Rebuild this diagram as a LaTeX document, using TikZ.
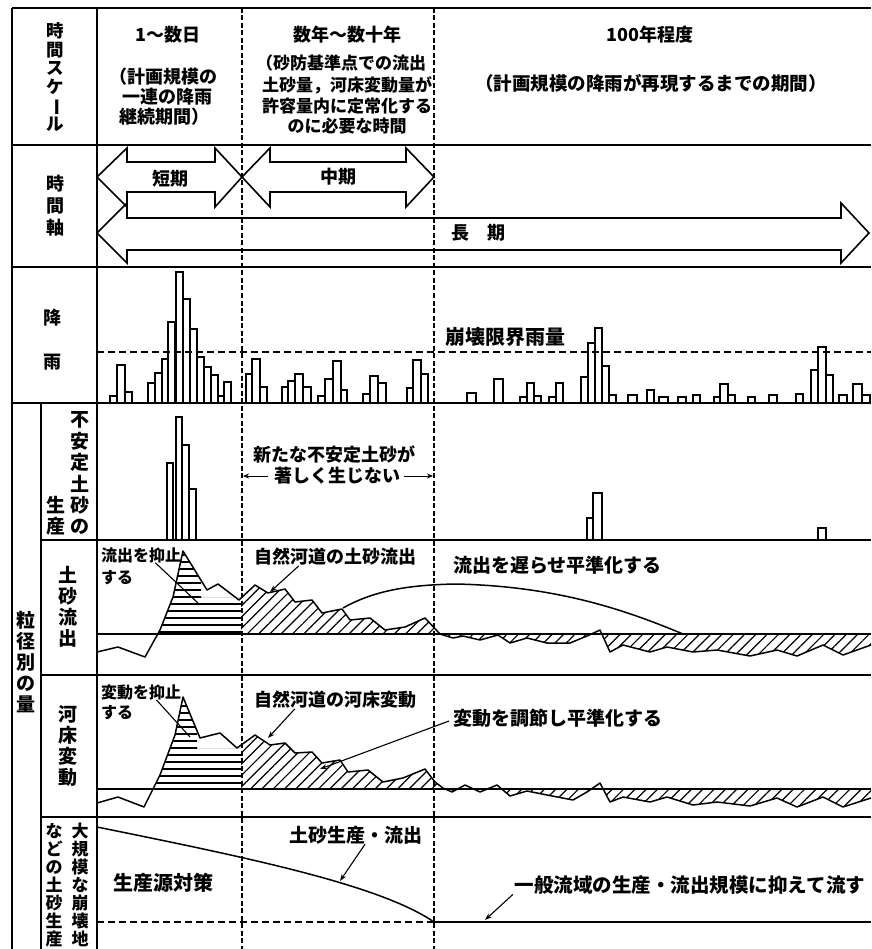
\documentclass[tikz,border=0pt]{standalone}
\usepackage{fontspec}
\setmainfont{Noto Sans CJK JP}
\usetikzlibrary{patterns.meta,arrows.meta}
\begin{document}
\begin{tikzpicture}[x=1pt,y=-1pt,
  frame/.style={line width=1.8pt},
  vdash/.style={line width=1.2pt, dash pattern=on 5pt off 2.5pt},
  hdash/.style={line width=1.3pt, dash pattern=on 7pt off 4pt},
  txt/.style={inner sep=0pt, font=\fontsize{18}{21}\selectfont\bfseries},
  txtb/.style={inner sep=0pt, font=\fontsize{17}{21}\selectfont\bfseries},
  txtc/.style={inner sep=0pt, font=\fontsize{19}{21}\selectfont\bfseries},
  txtd/.style={inner sep=0pt, font=\fontsize{20}{21}\selectfont\bfseries},
  stxt/.style={inner sep=0pt, font=\fontsize{16}{21}\selectfont\bfseries},
  vtxt/.style={inner sep=0pt, align=center},
  bar/.style={line width=1.3pt},
  curve/.style={line width=1.5pt, line join=round},
  hatch/.style={pattern={Lines[angle=45,distance=8pt,line width=1.2pt]}},
  hline/.style={line width=1.4pt},
  leader/.style={line width=1.1pt},
  arr/.style={line width=1.1pt, -{Stealth[length=7pt,width=5pt]}},
  bigarrow/.style={line width=1.6pt, line join=miter},
]
\useasboundingbox (0,0) rectangle (871,949);

% ---------- hatching: sediment outflow ----------
\begin{scope}
  \clip (158,634) -- (160,630) -- (173,597) -- (183,551) -- (201,581) -- (201,597.8) -- (241,597.8) -- (241,634) -- cycle;
  \foreach \yy in {555,562,...,632} \draw[hline] (150,\yy) -- (245,\yy);
\end{scope}
\fill[hatch] (241,634) -- (241,598) -- (255,585) -- (268,593) -- (285,589) -- (295,602) -- (312,600) -- (322,613) -- (342,609) -- (350,620) -- (370,618) -- (385,630) -- (405,627) -- (425,618) -- (440,634) -- cycle;
\begin{scope}
  \clip (436,634) rectangle (871,670);
  \fill[hatch] (440,634) -- (453,638) -- (463,636) -- (480,640) -- (498,635) -- (510,643) -- (527,638) -- (547,643) -- (570,643) -- (587,636) -- (600,630) -- (610,652) -- (623,645) -- (650,652) -- (667,647) -- (693,652) -- (717,650) -- (750,656) -- (777,650) -- (797,656) -- (823,645) -- (843,655) -- (871,645) -- (871,634) -- cycle;
\end{scope}

% ---------- hatching: riverbed ----------
\begin{scope}
  \clip (153,789) -- (160,775) -- (175,735) -- (183,697) -- (197,731) -- (197,748.8) -- (241,748.8) -- (241,789) -- cycle;
  \foreach \yy in {699,706,...,783} \draw[hline] (145,\yy) -- (245,\yy);
\end{scope}
\fill[hatch] (241,789) -- (241,745) -- (255,735) -- (270,745) -- (285,743) -- (295,753) -- (312,752) -- (322,763) -- (340,760) -- (348,772) -- (368,770) -- (383,782) -- (403,778) -- (425,769) -- (435,782) -- (443,789) -- cycle;
\begin{scope}
  \clip (436,789) rectangle (871,825);
  \fill[hatch] (443,788) -- (452,792) -- (465,785) -- (480,792) -- (497,785) -- (510,796) -- (527,791) -- (547,795) -- (573,800) -- (587,792) -- (600,783) -- (610,802) -- (623,797) -- (650,802) -- (667,797) -- (693,805) -- (717,802) -- (750,806) -- (777,798) -- (797,807) -- (823,797) -- (843,807) -- (871,798) -- (871,789) -- cycle;
\end{scope}

% ---------- frame ----------
\draw[frame] (12,8) -- (871,8);
\draw[frame] (12,8) -- (12,949);
\draw[frame] (97,8) -- (97,949);
\draw[frame] (12,145) -- (871,145);
\draw[frame] (12,267) -- (871,267);
\draw[frame] (12,403) -- (871,403);
\draw[frame] (41,403) -- (41,949);
\draw[frame] (41,540) -- (871,540);
\draw[frame] (41,675) -- (871,675);
\draw[frame] (41,817) -- (871,817);
\draw[vdash] (242,8) -- (242,949);
\draw[vdash] (434,8) -- (434,949);

% ---------- header texts ----------
\node[vtxt, font=\fontsize{17.5}{18.5}\selectfont\bfseries] (hs) at (55,77) {時\\間\\ス\\ケ\\\rotatebox[origin=c]{-90}{ー}\\ル};
\node[txt] (h1) at (168,35) {1～数日};
\node[txt] (h1a) at (163,77) {（計画規模の};
\node[txt] (h1b) at (167,97) {一連の降雨};
\node[txt] (h1c) at (164,117) {継続期間）};
\node[txt] (h2) at (347,35) {数年～数十年};
\node[txtb] (h2a) at (341,63) {（砂防基準点での流出};
\node[txtb] (h2b) at (347,85) {土砂量，河床変動量が};
\node[txtb] (h2c) at (347,106) {許容量内に定常化する};
\node[txtb] (h2d) at (347,126) {のに必要な時間};
\node[txt] (h3) at (650,35) {100年程度};
\node[inner sep=0pt, font=\fontsize{18.5}{21}\selectfont\bfseries] (h3a) at (651,83) {（計画規模の降雨が再現するまでの期間）};

% ---------- time axis ----------
\node[vtxt, font=\fontsize{18}{22}\selectfont\bfseries] (ta) at (55,206) {時\\間\\軸};
\draw[bigarrow] (97,177) -- (127,148) -- (127,162) -- (215,162) -- (215,148) -- (242,177) -- (215,207) -- (215,192) -- (127,192) -- (127,207) -- cycle;
\draw[bigarrow] (242,177) -- (270,148) -- (270,162) -- (406,162) -- (406,148) -- (434,177) -- (406,207) -- (406,192) -- (270,192) -- (270,207) -- cycle;
\draw[bigarrow] (97,233) -- (127,203) -- (127,218) -- (841,218) -- (841,203) -- (869,233) -- (841,263) -- (841,250) -- (127,250) -- (127,263) -- cycle;
\node[txt] (tshort) at (170,179) {短期};
\node[txt] (tmid) at (338,177) {中期};
\node[txt] (tlong) at (478,233) {長　期};

% ---------- rainfall ----------
\node[txt] (r1) at (52,318) {降};
\node[txt] (r2) at (52,362) {雨};
\draw[hdash] (97,352) -- (871,352);
\node[txtd, anchor=west] (rl) at (445,337) {崩壊限界雨量};
\foreach \a/\b/\t in {110/117/396, 117/125/365, 125/132/392,
  148/155/383, 155/162/373, 162/168/359, 168/175/322, 176/183/272, 183/190/299, 190/197/329, 197/204/357, 204/211/367, 211/218/375, 218/224/396, 224/231/382,
  246/252/374, 252/260/359, 260/267/387,
  282/288/387, 288/295/381, 295/303/374, 303/311/387,
  318/325/396, 325/333/379, 333/341/361, 341/347/390,
  363/370/394, 370/378/376, 378/386/383,
  407/413/388, 413/421/360, 421/428/374,
  467/476/393, 494/503/379, 520/527/397, 527/534/383, 534/541/396, 549/556/397, 556/563/383,
  581/588/377, 588/595/343, 595/602/328, 602/609/366, 609/616/395,
  628/637/395, 647/654/390, 659/668/397, 678/686/397, 693/700/395,
  714/720/397, 720/728/384, 728/735/395, 748/755/397, 769/777/395, 796/803/394,
  811/818/370, 818/826/347, 826/833/375, 839/847/395, 853/862/384, 862/870/395}
  \draw[bar] (\a,403) rectangle (\b,\t);

% ---------- unstable sediment production ----------
\node[vtxt, font=\fontsize{19}{21.4}\selectfont\bfseries] (p1) at (80,473.5) {不\\安\\定\\土\\砂\\の};
\node[vtxt, font=\fontsize{19}{21.4}\selectfont\bfseries] (p2) at (56,516) {生\\産};
\foreach \a/\b/\t in {167/173/463, 176/182/417, 182/189/445, 189/196/489, 587/593/518, 593/602/493, 818/826/528}
  \draw[bar] (\a,540) rectangle (\b,\t);
\node[txt] (pt1) at (334,455) {新たな不安定土砂が};
\node[txt] (pt2) at (337,476) {著しく生じない};
\coordinate (pl) at (243,476);
\coordinate (pr) at (433,476);
\draw[line width=1pt, -{Stealth[length=6pt,width=5pt]}] ([xshift=-6pt]pt2.west) -- (pl);
\draw[line width=1pt, -{Stealth[length=6pt,width=5pt]}] ([xshift=4pt]pt2.east) -- (pr);

% ---------- big label ----------
\node[vtxt, font=\fontsize{19}{21}\selectfont\bfseries] (big) at (26,662) {粒\\径\\別\\の\\量};

% ---------- sediment outflow ----------
\node[vtxt, font=\fontsize{19}{21}\selectfont\bfseries] (o0) at (68,607) {土\\砂\\流\\出};
\draw[frame] (97,634) -- (871,634);
\draw[curve] (97,652) -- (118,647) -- (145,657) -- (160,630) -- (173,597) -- (183,551) -- (207,590) -- (218,584) -- (239,600) -- (255,585) -- (268,593) -- (285,589) -- (295,602) -- (312,600) -- (322,613) -- (342,609) -- (350,620) -- (370,618) -- (385,630) -- (405,627) -- (425,618) -- (440,634) -- (453,638) -- (463,636) -- (480,640) -- (498,635) -- (510,643) -- (527,638) -- (547,643) -- (570,643) -- (587,636) -- (600,630) -- (610,652) -- (623,645) -- (650,652) -- (667,647) -- (693,652) -- (717,650) -- (750,656) -- (777,650) -- (797,656) -- (823,645) -- (843,655) -- (871,645);
\draw[curve] (343,608) .. controls (375,590) and (410,585) .. (455,584) .. controls (560,586) and (630,612) .. (683,634);
\node[stxt, anchor=west] (o1) at (101,555) {流出を抑止};
\node[stxt, anchor=west] (o1b) at (101,578) {する};
\coordinate (o1e) at (198,603);
\draw[leader] ([xshift=-26pt]o1.south east) -- (o1e);
\node[txt] (o2) at (335,557) {自然河道の土砂流出};
\coordinate (o2e) at (270,592);
\draw[arr] ([xshift=45pt]o2.south west) -- (o2e);
\node[txtc, anchor=west] (o3) at (453,565) {流出を遅らせ平準化する};

% ---------- riverbed variation ----------
\node[vtxt, font=\fontsize{19}{21}\selectfont\bfseries] (b0) at (68,746) {河\\床\\変\\動};
\draw[frame] (97,789) -- (871,789);
\draw[curve] (97,803) -- (118,797) -- (144,807) -- (160,775) -- (175,735) -- (183,697) -- (200,738) -- (220,733) -- (237,748) -- (255,735) -- (270,745) -- (285,743) -- (295,753) -- (312,752) -- (322,763) -- (340,760) -- (348,772) -- (368,770) -- (383,782) -- (403,778) -- (425,769) -- (435,782) -- (443,788) -- (452,792) -- (465,785) -- (480,792) -- (497,785) -- (510,796) -- (527,791) -- (547,795) -- (573,800) -- (587,792) -- (600,783) -- (610,802) -- (623,797) -- (650,802) -- (667,797) -- (693,805) -- (717,802) -- (750,806) -- (777,798) -- (797,807) -- (823,797) -- (843,807) -- (871,798);
\node[stxt, anchor=west] (b1) at (101,692) {変動を抑止};
\node[stxt, anchor=west] (b1b) at (101,713) {する};
\coordinate (b1e) at (190,737);
\draw[leader] ([xshift=-25pt]b1.south east) -- (b1e);
\node[txt] (b2) at (335,700) {自然河道の河床変動};
\coordinate (b2e) at (268,738);
\draw[arr] ([xshift=41pt]b2.south west) -- (b2e);
\node[txtc, anchor=west] (b3) at (453,718) {変動を調節し平準化する};
\coordinate (b3e) at (320,769);
\draw[arr] ([xshift=-4pt,yshift=-3pt]b3.west) -- (b3e);

% ---------- large-scale landslide production ----------
\node[vtxt, font=\fontsize{17}{18}\selectfont\bfseries] (s1) at (80,885) {大\\規\\模\\な\\崩\\壊\\地};
\node[vtxt, font=\fontsize{17}{18}\selectfont\bfseries] (s2) at (54,885) {な\\ど\\の\\土\\砂\\生\\産};
\draw[curve] (97,827) .. controls (250,858) and (380,885) .. (434,922);
\draw[hdash] (97,922) -- (434,922);
\draw[frame] (434,922) -- (871,922);
\node[txtc] (s3) at (356,835) {土砂生産・流出};
\coordinate (s3e) at (340,881);
\draw[arr] ([xshift=9pt]s3.south) -- (s3e);
\node[txtd] (s4) at (163,883) {生産源対策};
\node[inner sep=0pt, font=\fontsize{19.5}{21}\selectfont\bfseries] (s5) at (690,885) {一般流域の生産・流出規模に抑えて流す};
\coordinate (s5e) at (485,920);
\draw[arr] ([xshift=-2pt]s5.south west) -- (s5e);
\end{tikzpicture}
\end{document}
